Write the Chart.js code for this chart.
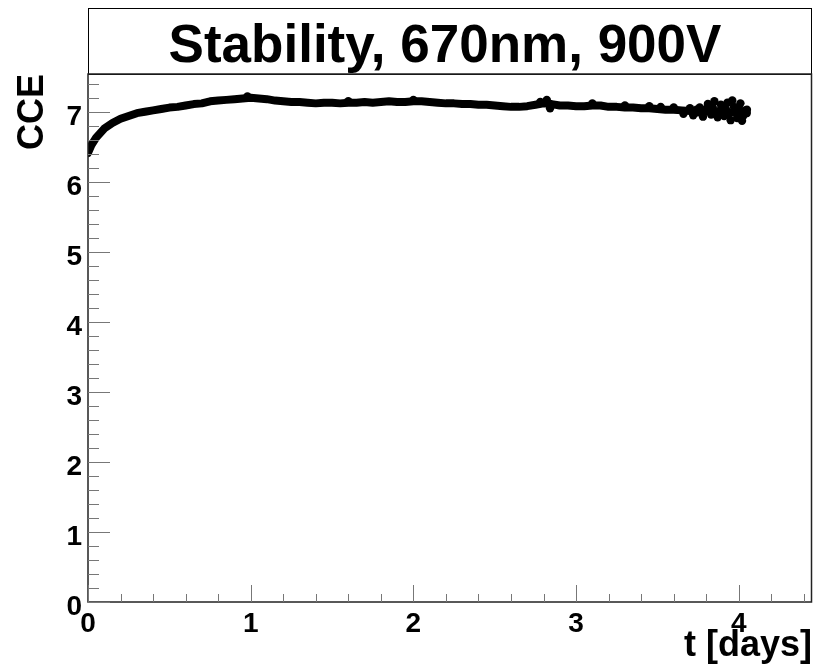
<!DOCTYPE html>
<html>
<head>
<meta charset="utf-8">
<script src="https://cdn.jsdelivr.net/npm/chart.js@4"></script>
<style>
  html, body { margin: 0; padding: 0; background: #fff; overflow: hidden; }
  #wrap { width: 813px; height: 668px; }
  canvas { display: block; }
</style>
</head>
<body>
<div id="wrap"><canvas id="chart" width="813" height="668"></canvas></div>
<script>
// Stability-Messung: CCE über die Zeit (Tage).
const FONT = '"Liberation Sans", Arial, sans-serif';

const TITLE = 'Stability, 670nm, 900V';
const X_TITLE = 't [days]';
const Y_TITLE = 'CCE';

// Zeitpunkte in Tagen (Hauptkurve)
const tDays = [
  0.00, 0.02, 0.05, 0.10, 0.15, 0.20, 0.25, 0.30, 0.35, 0.40, 0.45,
  0.50, 0.55, 0.60, 0.65, 0.70, 0.75, 0.80, 0.85, 0.90, 0.95,
  1.00, 1.05, 1.10, 1.15, 1.20, 1.25, 1.30, 1.35, 1.40, 1.45,
  1.50, 1.55, 1.60, 1.65, 1.70, 1.75, 1.80, 1.85, 1.90, 1.95,
  2.00, 2.05, 2.10, 2.15, 2.20, 2.25, 2.30, 2.35, 2.40, 2.45,
  2.50, 2.55, 2.60, 2.65, 2.70, 2.75, 2.80, 2.85, 2.90, 2.95,
  3.00, 3.05, 3.10, 3.15, 3.20, 3.25, 3.30, 3.35, 3.40, 3.45,
  3.50, 3.55, 3.60, 3.65, 3.70, 3.75, 3.80, 3.85, 3.90, 3.95,
  4.00, 4.05
];

// CCE-Werte zur Hauptkurve
const cce = [
  6.42, 6.53, 6.64, 6.77, 6.85, 6.91, 6.95, 6.99, 7.01, 7.03, 7.05,
  7.07, 7.08, 7.10, 7.12, 7.13, 7.16, 7.17, 7.18, 7.19, 7.20,
  7.21, 7.20, 7.19, 7.17, 7.16, 7.15, 7.15, 7.14, 7.13, 7.14,
  7.14, 7.13, 7.14, 7.14, 7.15, 7.14, 7.15, 7.16, 7.15, 7.15,
  7.16, 7.16, 7.15, 7.14, 7.13, 7.13, 7.12, 7.12, 7.11, 7.11,
  7.10, 7.09, 7.08, 7.08, 7.09, 7.11, 7.13, 7.12, 7.10, 7.10,
  7.09, 7.09, 7.10, 7.10, 7.08, 7.08, 7.07, 7.07, 7.06, 7.06,
  7.05, 7.04, 7.04, 7.03, 7.02, 7.00, 7.03, 6.99, 7.02, 7.00,
  7.01, 6.99
];

// Streupunkte (Rauschen, vor allem am Ende)
const noiseT = [
  0.98, 1.60, 2.00, 2.78, 2.82, 2.84, 3.10, 3.30, 3.45, 3.52,
  3.60, 3.66, 3.70, 3.72, 3.74, 3.76, 3.78, 3.80, 3.81, 3.83,
  3.84, 3.85, 3.87, 3.88, 3.89, 3.91, 3.92, 3.93, 3.94, 3.95,
  3.96, 3.97, 3.98, 3.99, 4.00, 4.01, 4.02, 4.03, 4.04, 4.05
];
const noiseCce = [
  7.23, 7.16, 7.18, 7.15, 7.18, 7.06, 7.13, 7.10, 7.09, 7.08,
  7.07, 6.98, 7.06, 6.96, 7.04, 7.07, 6.94, 7.05, 7.12, 6.97,
  7.07, 7.16, 6.93, 7.02, 7.11, 6.95, 7.05, 7.14, 6.98, 6.89,
  7.17, 7.08, 7.00, 6.92, 7.06, 7.13, 6.88, 6.96, 7.03, 7.04
];

// Achsenbereiche
const X_MIN = 0, X_MAX = 4.45;
const Y_MIN = 0, Y_MAX = 7.55;

const mainPoints = tDays.map((t, i) => ({ x: t, y: cce[i] }));
const noisePoints = noiseT.map((t, i) => ({ x: t, y: noiseCce[i] }));

// Zeichnet Titelbox, Rahmen und die nach innen zeigenden Ticks (ROOT-Stil).
const rootFrame = {
  id: 'rootFrame',
  afterDraw(chart) {
    const { ctx, chartArea: a, scales: { x, y } } = chart;
    ctx.save();

    // Titelbox
    ctx.strokeStyle = '#000';
    ctx.lineWidth = 1;
    ctx.strokeRect(a.left + 0.5, 8.5, a.right - a.left - 1, a.top - 8);
    ctx.fillStyle = '#000';
    ctx.font = 'bold 53px ' + FONT;
    ctx.textAlign = 'center';
    ctx.textBaseline = 'alphabetic';
    ctx.fillText(TITLE, (a.left + a.right) / 2 - 5, 62);

    // Rahmen
    ctx.strokeStyle = '#222';
    ctx.lineWidth = 1.5;
    ctx.strokeRect(a.left, a.top, a.right - a.left - 0.5, a.bottom - a.top);

    // Ticks
    ctx.strokeStyle = '#777';
    ctx.lineWidth = 1;
    ctx.beginPath();
    for (let k = 0; k * 0.2 <= X_MAX + 1e-9; k++) {
      const px = Math.round(x.getPixelForValue(k * 0.2)) + 0.5;
      const len = k % 5 === 0 ? 17 : 8;
      ctx.moveTo(px, a.bottom);
      ctx.lineTo(px, a.bottom - len);
    }
    for (let k = 0; k * 0.2 <= Y_MAX + 1e-9; k++) {
      const py = Math.round(y.getPixelForValue(k * 0.2)) + 0.5;
      const len = k % 5 === 0 ? 22 : 11;
      ctx.moveTo(a.left, py);
      ctx.lineTo(a.left + len, py);
    }
    ctx.stroke();
    ctx.restore();
  }
};

new Chart(document.getElementById('chart'), {
  type: 'scatter',
  data: {
    datasets: [
      {
        data: mainPoints,
        showLine: true,
        borderColor: '#000',
        borderWidth: 8,
        borderCapStyle: 'round',
        borderJoinStyle: 'round',
        pointRadius: 0,
        tension: 0
      },
      {
        data: noisePoints,
        backgroundColor: '#000',
        borderColor: '#000',
        pointRadius: 4.2,
        borderWidth: 0
      }
    ]
  },
  options: {
    responsive: false,
    animation: false,
    layout: { autoPadding: false, padding: { top: 74, right: 1, left: 0, bottom: 0 } },
    plugins: {
      legend: { display: false },
      tooltip: { enabled: false }
    },
    scales: {
      x: {
        type: 'linear',
        min: X_MIN,
        max: X_MAX,
        grid: { display: false, drawTicks: false },
        border: { display: false },
        ticks: {
          stepSize: 1,
          includeBounds: false,
          padding: 5,
          color: '#000',
          font: { family: FONT, size: 28, weight: 'bold' },
          maxRotation: 0
        },
        title: {
          display: true,
          text: X_TITLE,
          align: 'end',
          color: '#000',
          padding: 0,
          font: { family: FONT, size: 36, weight: 'bold' }
        },
        afterFit(s) {
          s.height = 66;
          s.paddingLeft = 0;
          s.paddingRight = 0;
        }
      },
      y: {
        type: 'linear',
        min: Y_MIN,
        max: Y_MAX,
        grid: { display: false, drawTicks: false },
        border: { display: false },
        ticks: {
          stepSize: 1,
          includeBounds: false,
          padding: 6,
          labelOffset: 5,
          color: '#000',
          font: { family: FONT, size: 28, weight: 'bold' }
        },
        title: {
          display: true,
          text: Y_TITLE,
          align: 'end',
          color: '#000',
          padding: { top: 11 },
          font: { family: FONT, size: 36, weight: 'bold' }
        },
        afterFit(s) {
          s.width = 88;
          s.paddingTop = 0;
          s.paddingBottom = 0;
        }
      }
    }
  },
  plugins: [rootFrame]
});
</script>
</body>
</html>
